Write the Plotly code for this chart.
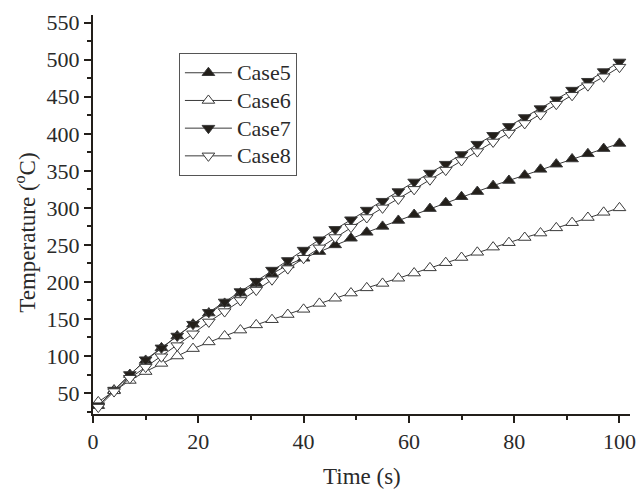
import plotly.graph_objects as go

time_s = [1, 4, 7, 10, 13, 16, 19, 22, 25, 28, 31, 34, 37, 40, 43, 46, 49, 52, 55, 58,
          61, 64, 67, 70, 73, 76, 79, 82, 85, 88, 91, 94, 97, 100]

case5 = [33, 54, 75, 94, 111, 127, 143, 158, 171, 185, 198, 211, 223, 232, 241, 250, 259, 267, 275, 283,
         291, 299, 307, 315, 322, 330, 337, 344, 352, 359, 366, 373, 380, 387]
case6 = [38, 53, 67, 79, 90, 100, 110, 119, 127, 135, 142, 149, 156, 163, 171, 178, 185, 192, 198, 205,
         212, 219, 226, 233, 240, 247, 253, 260, 266, 273, 280, 287, 294, 300]
case7 = [33, 54, 75, 95, 111, 127, 143, 159, 173, 187, 201, 216, 229, 243, 257, 271, 284, 297, 309, 322,
         335, 347, 359, 372, 386, 398, 410, 422, 434, 446, 459, 471, 484, 497]
case8 = [31, 52, 70, 85, 99, 114, 130, 146, 160, 175, 189, 203, 218, 232, 246, 260, 274, 287, 300, 312,
         325, 338, 351, 364, 376, 389, 401, 414, 426, 440, 452, 465, 477, 490]

series = [
    ("Case5", case5, "triangle-up", "#231f1a"),
    ("Case6", case6, "triangle-up", "white"),
    ("Case7", case7, "triangle-down", "#231f1a"),
    ("Case8", case8, "triangle-down", "white"),
]

fig = go.Figure()
for name, vals, sym, fill in series:
    fig.add_trace(go.Scatter(
        x=time_s, y=vals, name="<span style='font-size:22px'>%s</span>" % name,
        mode="lines+markers",
        line=dict(color="#3a3a3a", width=1),
        marker=dict(symbol=sym, size=11, color=fill, line=dict(color="#3a3a3a", width=1)),
    ))

font = dict(family="Liberation Serif, Times New Roman, serif", size=22, color="#2a2a2a")
axis_common = dict(
    showgrid=False, zeroline=False, showline=True, linecolor="#231f1a", linewidth=2,
    ticks="outside", ticklen=7, tickwidth=1.5, tickcolor="#231f1a", mirror=False,
    tickfont=dict(size=22), automargin=False,
)
fig.update_layout(
    width=640, height=489,
    margin=dict(l=93, r=10, t=15, b=75),
    paper_bgcolor="white", plot_bgcolor="white",
    font=font,
    showlegend=True,
    legend=dict(x=0.16, y=0.905, xanchor="left", yanchor="top",
                bordercolor="#555", borderwidth=1, bgcolor="white",
                font=dict(size=19), itemwidth=47),
    xaxis=dict(range=[0, 102], tickvals=[0, 20, 40, 60, 80, 100],
               minor=dict(tickvals=[10, 30, 50, 70, 90], ticks="outside", ticklen=4, tickcolor="#231f1a"),
               **axis_common),
    yaxis=dict(range=[21.7, 560.4], tickvals=[50, 100, 150, 200, 250, 300, 350, 400, 450, 500, 550],
               minor=dict(tickvals=[25, 75, 125, 175, 225, 275, 325, 375, 425, 475, 525],
                          ticks="outside", ticklen=4, tickcolor="#231f1a"),
               **axis_common),
    annotations=[
        dict(text="Temperature (<sup>o</sup>C)", textangle=-90, showarrow=False,
             xref="paper", yref="paper", x=-0.125, y=0.454, xanchor="center", yanchor="middle",
             font=dict(size=23)),
        dict(text="Time (s)", showarrow=False,
             xref="paper", yref="paper", x=0.5, y=-0.157, xanchor="center", yanchor="middle",
             font=dict(size=23)),
    ],
)

fig.write_html("out.html")
